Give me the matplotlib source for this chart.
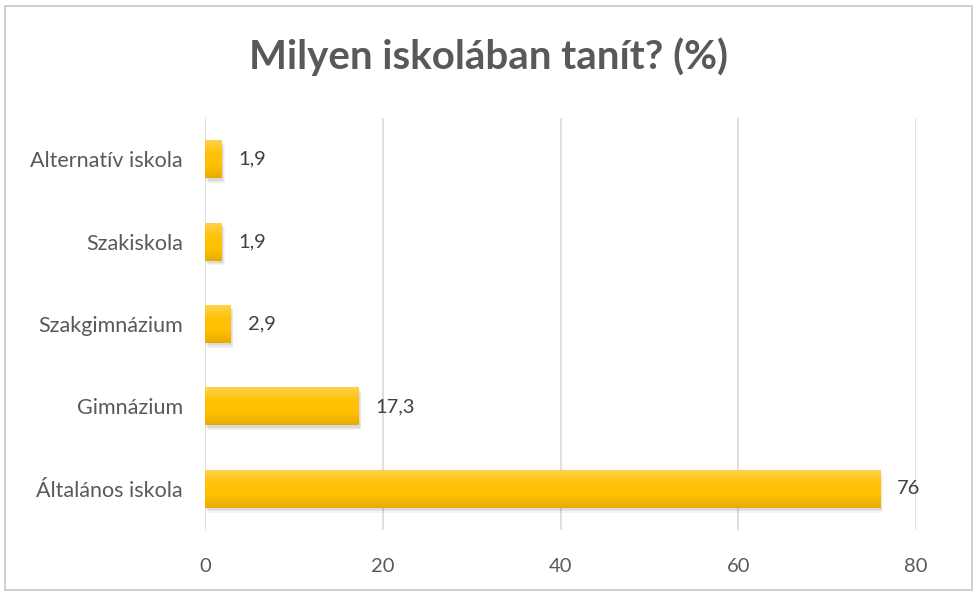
import numpy as np
import matplotlib.pyplot as plt
from matplotlib.patches import Rectangle
from matplotlib.colors import LinearSegmentedColormap

categories = ['Általános iskola', 'Gimnázium', 'Szakgimnázium', 'Szakiskola', 'Alternatív iskola']
values = [76, 17.3, 2.9, 1.9, 1.9]
labels = ['76', '17,3', '2,9', '1,9', '1,9']
xticks = [0, 20, 40, 60, 80]

plt.rcParams['font.family'] = ['Lato', 'DejaVu Sans']

fig = plt.figure(figsize=(9.77, 5.95), dpi=100)
ax = fig.add_axes([0.2098, 0.1092, 0.7278, 0.6925])

gold = LinearSegmentedColormap.from_list('gold', ['#FFD24A', '#FFC20A', '#FFC000', '#E6AC00'])
grad = np.linspace(0, 1, 64).reshape(-1, 1)
h = 0.46
y = np.arange(len(categories))

for yi, v, lab in zip(y, values, labels):
    # soft shadow under each bar
    for k, a in enumerate([0.06, 0.05, 0.04]):
        ax.add_patch(Rectangle((0.1 + 0.1 * k, yi - h / 2 - 0.03 - 0.015 * k), v, h,
                               facecolor='#000000', alpha=a, edgecolor='none', zorder=2))
    bar = ax.barh(yi, v, height=h, color='#FFC000', zorder=3)[0]
    im = ax.imshow(grad, cmap=gold, aspect='auto', zorder=4,
                   extent=[0, v, yi - h / 2, yi + h / 2], origin='upper')
    im.set_clip_path(bar)
    ax.text(v + 1.9, yi, lab, va='center', ha='left', fontsize=14.5, color='#404040')

ax.set_xlim(0, 80)
ax.set_ylim(-0.5, 4.5)
ax.set_xticks(xticks)
ax.set_xticklabels([str(t) for t in xticks], fontsize=14.5, color='#595959')
ax.set_yticks(y)
ax.set_yticklabels(categories, fontsize=15.5, color='#595959')
ax.tick_params(axis='y', length=0, pad=16)
ax.tick_params(axis='x', length=0, pad=20)
ax.grid(axis='x', color='#D9D9D9', linewidth=1.2, zorder=0)
ax.set_axisbelow(True)
for s in ax.spines.values():
    s.set_visible(False)

fig.text(0.5, 0.905, 'Milyen iskolában tanít? (%)', ha='center', va='center',
         fontsize=29, fontweight='bold', color='#595959')

# chart frame
fig.patches.append(Rectangle((5 / 977, 5 / 595), 967 / 977, 584 / 595, transform=fig.transFigure,
                             fill=False, edgecolor='#C8C8C8', linewidth=1.2))

fig.savefig('out.png', dpi=100)
